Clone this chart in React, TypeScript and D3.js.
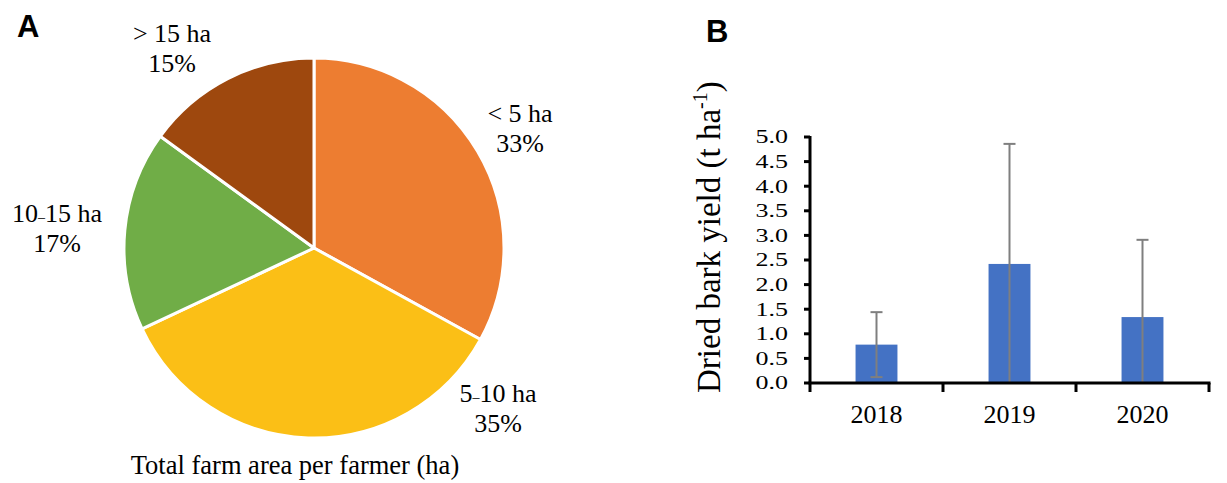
import React from 'react';
import * as d3 from 'd3';

// panel A: farm size shares
const farmClasses = ['< 5 ha', '5–10 ha', '10–15 ha', '> 15 ha'];
const farmShares = [33, 35, 17, 15];
const farmColors = ['#ED7D31', '#FBBF16', '#70AD47', '#9E480E'];

// panel B: dried bark yield
const years = ['2018', '2019', '2020'];
const yieldMean = [0.78, 2.42, 1.34];
const yieldSd = [0.66, 2.44, 1.57];
const yTicks = [0, 0.5, 1, 1.5, 2, 2.5, 3, 3.5, 4, 4.5, 5];

const serif = '"Liberation Serif", "Times New Roman", serif';
const sans = '"Liberation Sans", Arial, sans-serif';

// label anchors (first-line baseline), layout only
const labelAt: [number, number][] = [[520, 122], [498, 402], [57, 222], [172, 42]];

function ClassLabel({ name, pct, x, y }: { name: string; pct: number; x: number; y: number }) {
  // small low dash like in the original figure
  const parts = name.split('–');
  return (
    <text x={x} y={y} textAnchor="middle" fontFamily={serif} fontSize={26} fill="#000">
      {parts.length === 2 ? (
        <>
          <tspan>{parts[0]}</tspan>
          <tspan fontSize={14}>–</tspan>
          <tspan>{parts[1]}</tspan>
        </>
      ) : name}
      <tspan x={x} dy={30}>{pct}%</tspan>
    </text>
  );
}

function PiePanel() {
  const cx = 314, cy = 248, r = 190;
  const pie = d3.pie<number>().sort(null).value(d => d);
  const arcs = pie(farmShares);
  const arc = d3.arc<d3.PieArcDatum<number>>().innerRadius(0).outerRadius(r);
  return (
    <g>
      <text x={17} y={37} fontFamily={sans} fontWeight="bold" fontSize={31}>A</text>
      <g transform={`translate(${cx},${cy})`}>
        {arcs.map((a, i) => (
          <path key={i} d={arc(a) || ''} fill={farmColors[i]} stroke="#fff" strokeWidth={3} strokeLinejoin="round" />
        ))}
      </g>
      {farmClasses.map((c, i) => (
        <ClassLabel key={c} name={c} pct={farmShares[i]} x={labelAt[i][0]} y={labelAt[i][1]} />
      ))}
      <text x={295} y={474} textAnchor="middle" fontFamily={serif} fontSize={26.5}>Total farm area per farmer (ha)</text>
    </g>
  );
}

function BarPanel() {
  const left = 810, right = 1209, top = 137, bottom = 383;
  const x = d3.scaleBand<string>().domain(years).range([left, right]).padding(0);
  const y = d3.scaleLinear().domain([0, 5]).range([bottom, top]);
  const barW = x.bandwidth() * 0.315;
  const boundaries = [...years.map(yr => x(yr) as number), right];
  return (
    <g>
      <text x={706} y={42} fontFamily={sans} fontWeight="bold" fontSize={31}>B</text>
      {/* bars */}
      {years.map((yr, i) => {
        const c = (x(yr) as number) + x.bandwidth() / 2;
        return (
          <rect key={yr} x={c - barW / 2} width={barW} y={y(yieldMean[i])} height={y(0) - y(yieldMean[i])} fill="#4472C4" />
        );
      })}
      {/* error bars */}
      {years.map((yr, i) => {
        const c = (x(yr) as number) + x.bandwidth() / 2;
        const hi = yieldMean[i] + yieldSd[i];
        const lo = Math.max(0, yieldMean[i] - yieldSd[i]);
        return (
          <g key={yr} stroke="#7F7F7F" strokeWidth={2}>
            <line x1={c} x2={c} y1={y(hi)} y2={y(lo)} />
            <line x1={c - 6} x2={c + 6} y1={y(hi)} y2={y(hi)} />
            {yieldMean[i] - yieldSd[i] > 0 && <line x1={c - 6} x2={c + 6} y1={y(lo)} y2={y(lo)} />}
          </g>
        );
      })}
      {/* y axis */}
      <line x1={left} x2={left} y1={top - 1} y2={bottom} stroke="#000" strokeWidth={3} />
      {yTicks.map(t => (
        <g key={t}>
          <line x1={left - 6} x2={left} y1={y(t)} y2={y(t)} stroke="#000" strokeWidth={3} />
          <g transform={`translate(788,${y(t)})`}>
            <text transform="scale(1,0.72)" textAnchor="end" dy="0.34em" fontFamily={serif} fontSize={26}>
              {d3.format('.1f')(t)}
            </text>
          </g>
        </g>
      ))}
      {/* x axis */}
      <line x1={left - 1.5} x2={right + 1.5} y1={bottom} y2={bottom} stroke="#000" strokeWidth={3} />
      {boundaries.map((b, i) => (
        <line key={i} x1={b} x2={b} y1={bottom} y2={bottom + 9} stroke="#000" strokeWidth={3} />
      ))}
      {years.map(yr => (
        <text key={yr} x={(x(yr) as number) + x.bandwidth() / 2} y={423} textAnchor="middle" fontFamily={serif} fontSize={26}>
          {yr}
        </text>
      ))}
      <text transform="translate(720,393) rotate(-90)" fontFamily={serif} fontSize={33}>
        Dried bark yield (t ha<tspan fontSize={20} dy={-13}>-1</tspan><tspan dy={13}>)</tspan>
      </text>
    </g>
  );
}

export default function App() {
  return (
    <svg width={1227} height={483} style={{ position: 'absolute', left: 0, top: 0, background: '#fff' }}>
      <rect width={1227} height={483} fill="#fff" />
      <PiePanel />
      <BarPanel />
    </svg>
  );
}
